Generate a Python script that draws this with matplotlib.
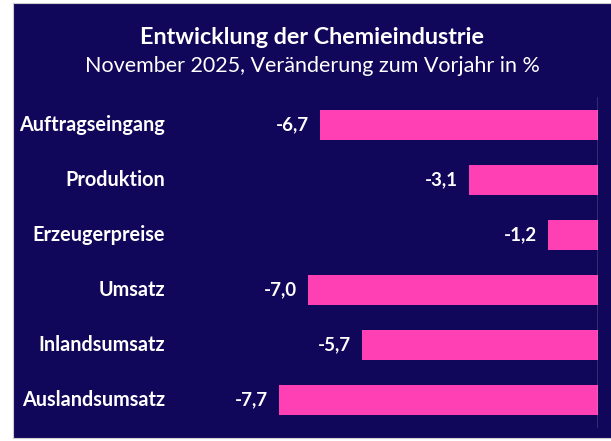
import matplotlib.pyplot as plt
from matplotlib.patches import Rectangle

# data
categories = ["Auftragseingang", "Produktion", "Erzeugerpreise",
              "Umsatz", "Inlandsumsatz", "Auslandsumsatz"]
values = [-6.7, -3.1, -1.2, -7.0, -5.7, -7.7]
labels = ["-6,7", "-3,1", "-1,2", "-7,0", "-5,7", "-7,7"]

navy = "#10075a"
pink = "#ff3fb4"
W, H = 611, 441

plt.rcParams['font.family'] = ['Lato', 'DejaVu Sans']

fig = plt.figure(figsize=(W / 100, H / 100), dpi=100)
fig.patch.set_facecolor("white")

# dark panel behind everything
fig.patches.append(Rectangle((13 / W, 3 / H), 1, 435 / H, transform=fig.transFigure,
                             facecolor=navy, edgecolor="#cccccc", linewidth=0.8, zorder=-5))

fig.text(312 / W, 1 - 37 / H, "Entwicklung der Chemieindustrie", color="white",
         fontsize=16.8, fontweight="bold", ha="center", va="center")
fig.text(312 / W, 1 - 66 / H, "November 2025, Veränderung zum Vorjahr in %", color="white",
         fontsize=15.5, ha="center", va="center")

# axes: zero at x=597.7 px, 41.4 px per unit
left_px, right_px = 200, 597.7
top_px, bot_px = 97.5, 427.5
ax = fig.add_axes((left_px / W, 1 - bot_px / H, (right_px - left_px) / W, (bot_px - top_px) / H))
ax.set_facecolor("none")
ax.set_xlim(-(right_px - left_px) / 41.4, 0)
ax.set_ylim(len(categories) - 0.5, -0.5)

y = list(range(len(categories)))
ax.barh(y, values, height=30 / 55, color=pink, zorder=2)
ax.axvline(0, color="#c8c8c8", linewidth=1, zorder=3)

for yi, v, lab in zip(y, values, labels):
    ax.annotate(lab, (v, yi), xytext=(-8, 0), textcoords="offset points",
                ha="right", va="center", color="white", fontsize=13.5, fontweight="bold")

for yi, cat in zip(y, categories):
    fig.text(165 / W, 1 - (125 + 55 * yi) / H, cat, color="white", fontsize=14.3,
             fontweight="bold", ha="right", va="center")

ax.axis("off")

fig.savefig("out.png", dpi=100, facecolor=fig.get_facecolor())
